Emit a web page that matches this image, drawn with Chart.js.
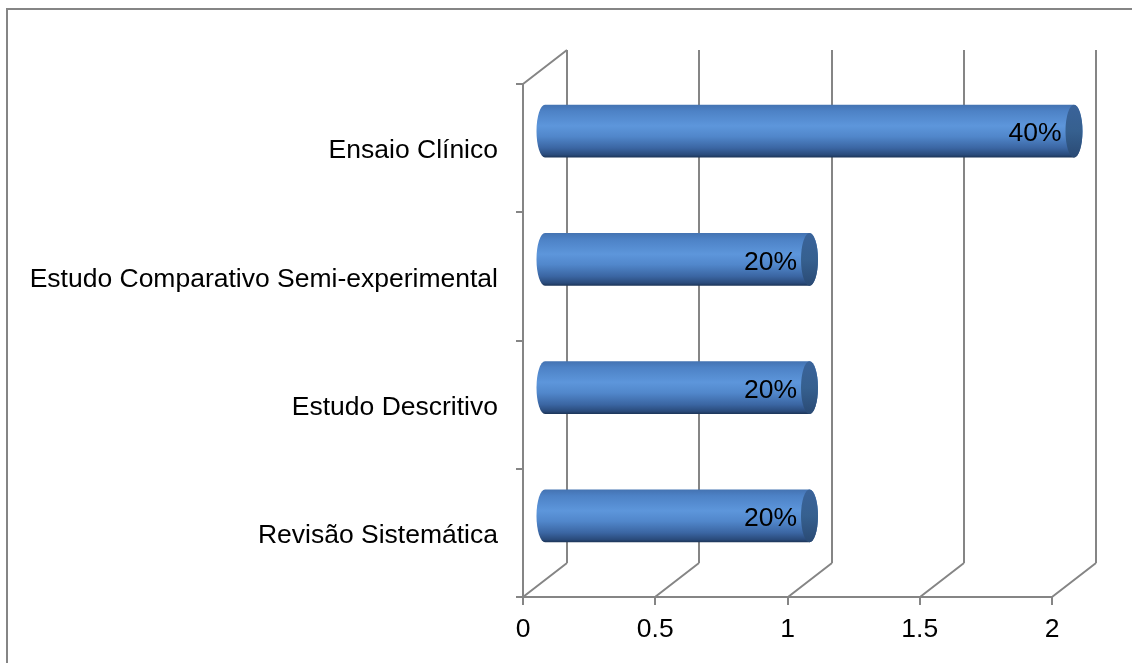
<!DOCTYPE html>
<html>
<head>
<meta charset="utf-8">
<script src="https://cdn.jsdelivr.net/npm/chart.js@4/dist/chart.umd.min.js"></script>
<style>
  html, body { margin: 0; padding: 0; background: #fff; }
  #wrap { width: 1132px; height: 663px; }
</style>
</head>
<body>
<div id="wrap"><canvas id="chart" width="1132" height="663"></canvas></div>
<script>
// tipos de estudo e número de artigos
const categories = ['Ensaio Clínico', 'Estudo Comparativo Semi-experimental', 'Estudo Descritivo', 'Revisão Sistemática'];
const counts = [2, 1, 1, 1];
const xMax = 2;
const xStep = 0.5;

const total = counts.reduce((a, b) => a + b, 0);
const percentLabels = counts.map(v => Math.round(v / total * 100) + '%');

// profundidade do efeito 3D (deslocamento da parede do fundo)
const DEPTH_X = 44;
const DEPTH_Y = 34;
const LINE = '#858585';
const FAMILY = '"Liberation Sans", Arial, sans-serif';
const SIZE = 26.5;

// moldura, paredes e linhas de grade em perspectiva
const wallsPlugin = {
  id: 'walls',
  beforeDatasetsDraw(chart) {
    const ctx = chart.ctx;
    const xs = chart.scales.x;
    const ys = chart.scales.y;
    const top = ys.top, bottom = ys.bottom;
    ctx.save();
    ctx.strokeStyle = LINE;
    ctx.lineWidth = 2;
    // moldura do gráfico
    ctx.strokeRect(7, 9, 1300, 900);

    ctx.beginPath();
    xs.ticks.forEach(t => {
      const px = Math.round(xs.getPixelForValue(t.value));
      // linha na parede do fundo
      ctx.moveTo(px + DEPTH_X, top - DEPTH_Y);
      ctx.lineTo(px + DEPTH_X, bottom - DEPTH_Y);
      // diagonal do piso
      ctx.moveTo(px, bottom);
      ctx.lineTo(px + DEPTH_X, bottom - DEPTH_Y);
      // marca do eixo
      ctx.moveTo(px, bottom);
      ctx.lineTo(px, bottom + 8);
    });
    const x0 = Math.round(xs.getPixelForValue(0));
    const x1 = Math.round(xs.getPixelForValue(xMax));
    // eixo frontal
    ctx.moveTo(x0, top);
    ctx.lineTo(x0, bottom);
    ctx.lineTo(x1, bottom);
    // diagonal superior da parede lateral
    ctx.moveTo(x0, top);
    ctx.lineTo(x0 + DEPTH_X, top - DEPTH_Y);
    // marcas das categorias
    const n = categories.length;
    for (let i = 0; i <= n; i++) {
      const py = Math.round(top + i * (bottom - top) / n);
      ctx.moveTo(x0 - 7, py);
      ctx.lineTo(x0, py);
    }
    ctx.stroke();
    ctx.restore();
  },

  // barras cilíndricas e rótulos de porcentagem
  afterDatasetsDraw(chart) {
    const ctx = chart.ctx;
    const meta = chart.getDatasetMeta(0);
    meta.data.forEach((bar, i) => {
      const p = bar.getProps(['x', 'y', 'base', 'height'], true);
      const cy = p.y - DEPTH_Y / 2;
      const left = p.base + DEPTH_X / 2;
      const right = p.x + DEPTH_X / 2;
      const ry = p.height / 2;
      const rx = 8.5;
      const topY = cy - ry, botY = cy + ry;

      ctx.save();
      const g = ctx.createLinearGradient(0, topY, 0, botY);
      g.addColorStop(0, '#4473b2');
      g.addColorStop(0.12, '#4d82c6');
      g.addColorStop(0.4, '#5d96db');
      g.addColorStop(0.6, '#5187cb');
      g.addColorStop(0.82, '#3b66a3');
      g.addColorStop(0.95, '#2a4b7b');
      g.addColorStop(1, '#1c3558');
      ctx.beginPath();
      ctx.ellipse(left, cy, rx, ry, 0, Math.PI / 2, Math.PI * 1.5);
      ctx.lineTo(right, topY);
      ctx.ellipse(right, cy, rx, ry, 0, -Math.PI / 2, Math.PI / 2);
      ctx.closePath();
      ctx.fillStyle = g;
      ctx.fill();

      // tampa
      const cg = ctx.createLinearGradient(0, topY, 0, botY);
      cg.addColorStop(0, '#3a639a');
      cg.addColorStop(0.5, '#36608f');
      cg.addColorStop(1, '#2a4a74');
      ctx.beginPath();
      ctx.ellipse(right, cy, rx, ry, 0, 0, Math.PI * 2);
      ctx.fillStyle = cg;
      ctx.fill();

      ctx.fillStyle = '#000';
      ctx.font = SIZE + 'px ' + FAMILY;
      ctx.textAlign = 'right';
      ctx.textBaseline = 'middle';
      ctx.fillText(percentLabels[i], right - rx - 4, cy + 3);
      ctx.restore();
    });
  }
};

new Chart(document.getElementById('chart'), {
  type: 'bar',
  data: {
    labels: categories,
    datasets: [{
      data: counts,
      backgroundColor: 'rgba(0,0,0,0)',
      borderWidth: 0,
      barPercentage: 0.41,
      categoryPercentage: 1
    }]
  },
  options: {
    indexAxis: 'y',
    responsive: false,
    animation: false,
    devicePixelRatio: 1,
    layout: { padding: { top: 84, right: 80, left: 0, bottom: 0 } },
    plugins: {
      legend: { display: false },
      tooltip: { enabled: false }
    },
    scales: {
      x: {
        min: 0,
        max: xMax,
        grid: { display: false, drawTicks: false },
        border: { display: false },
        ticks: {
          stepSize: xStep,
          color: '#000',
          font: { family: FAMILY, size: SIZE },
          padding: 17,
          maxRotation: 0,
          callback: v => String(v)
        },
        afterFit(scale) { scale.height = 66; }
      },
      y: {
        grid: { display: false, drawTicks: false },
        border: { display: false },
        ticks: {
          color: '#000',
          font: { family: FAMILY, size: SIZE },
          padding: 25,
          labelOffset: 3
        },
        afterFit(scale) { scale.width = 523; }
      }
    }
  },
  plugins: [wallsPlugin]
});
</script>
</body>
</html>
